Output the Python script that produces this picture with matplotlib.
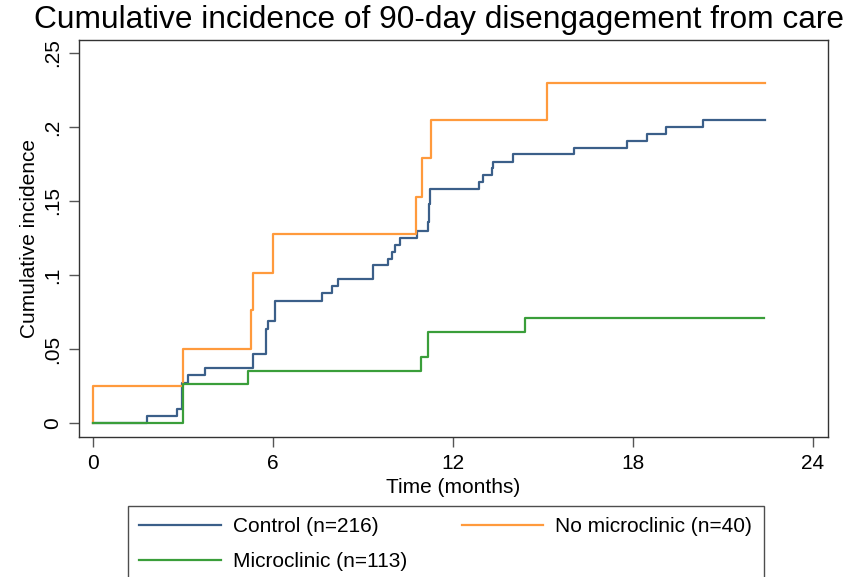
import matplotlib
matplotlib.use("Agg")
import matplotlib.pyplot as plt

plt.rcParams['font.family'] = ['Liberation Sans', 'DejaVu Sans']

# Control (n=216)
control_t = [0, 1.79, 2.79, 2.96, 3.17, 3.73, 5.34, 5.77, 5.84, 6.07, 7.62, 7.98, 8.18,
             9.32, 9.84, 9.96, 10.07, 10.23, 10.79, 11.18, 11.20, 11.22, 12.88, 12.99,
             13.29, 13.34, 13.99, 16.04, 17.79, 18.48, 19.09, 20.34, 22.4]
control_y = [0, 0.0046, 0.0093, 0.027, 0.0324, 0.037, 0.0466, 0.0633, 0.069, 0.0826,
             0.0878, 0.0926, 0.0973, 0.1066, 0.1106, 0.1158, 0.1203, 0.1252, 0.1297,
             0.136, 0.148, 0.158, 0.1626, 0.1674, 0.1721, 0.1766, 0.1815, 0.1856,
             0.1905, 0.1955, 0.2002, 0.2045, 0.2045]

# No microclinic (n=40)
nomc_t = [0, 0, 3.0, 5.27, 5.33, 5.99, 10.75, 10.98, 11.26, 15.12, 22.4]
nomc_y = [0, 0.025, 0.05, 0.076, 0.1015, 0.1277, 0.153, 0.179, 0.2045, 0.2297, 0.2297]

# Microclinic (n=113)
mc_t = [0, 3.0, 5.18, 10.93, 11.16, 11.18, 14.4, 22.38]
mc_y = [0, 0.0264, 0.0351, 0.0444, 0.053, 0.0617, 0.0707, 0.0707]

labels = ['Control (n=216)', 'No microclinic (n=40)', 'Microclinic (n=113)']
colors = ['#3b5f89', '#ff9a3c', '#3a9e3a']

fig = plt.figure(figsize=(8.58, 5.77), dpi=100)
ax = fig.add_axes([79/858, 1 - 437/577, (828 - 79)/858, (437 - 40)/577])

l1, = ax.step(control_t, control_y, where='post', color=colors[0], lw=1.6, label=labels[0])
l2, = ax.step(nomc_t, nomc_y, where='post', color=colors[1], lw=1.6, label=labels[1])
l3, = ax.step(mc_t, mc_y, where='post', color=colors[2], lw=1.6, label=labels[2])

ax.set_xlim(-0.47, 24.5)
ax.set_ylim(-0.0095, 0.2588)
ax.set_xticks([0, 6, 12, 18, 24])
ax.set_yticks([0, 0.05, 0.1, 0.15, 0.2, 0.25])
ax.set_yticklabels(['0', '.05', '.1', '.15', '.2', '.25'], rotation=90, va='center')
ax.tick_params(axis='both', labelsize=15, length=7, width=1, color='#555555', pad=5)

for s in ax.spines.values():
    s.set_color('#333333')
    s.set_linewidth(1)

ax.set_xlabel('Time (months)', fontsize=15, labelpad=4)
ax.set_ylabel('Cumulative incidence', fontsize=15, labelpad=3)
fig.text(0.512, 0.966, 'Cumulative incidence of 90-day disengagement from care',
         ha='center', va='center', fontsize=22.8)

fig.legend([l1, l3, l2], [labels[0], labels[2], labels[1]], ncol=2,
           loc='upper left', bbox_to_anchor=(128/858, 1 - 506/577),
           frameon=True, fancybox=False, edgecolor='#222222', fontsize=15,
           handlelength=3.9, columnspacing=2.6, labelspacing=0.75, borderpad=0.55,
           handletextpad=0.6, borderaxespad=0)

fig.savefig('out.png', dpi=100)
